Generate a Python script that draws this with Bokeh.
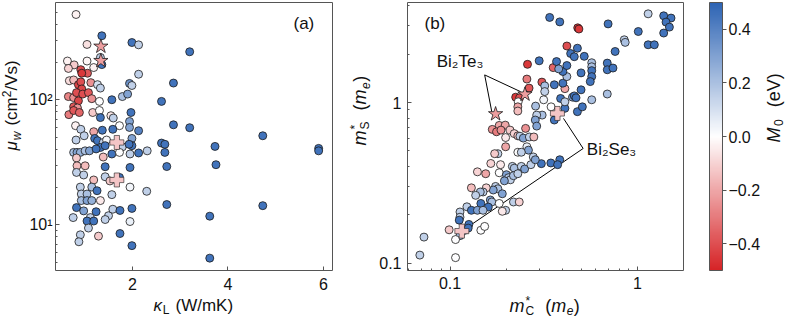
import math
from bokeh.plotting import figure
from bokeh.layouts import row, column
from bokeh.models import (ColumnDataSource, LinearColorMapper, ColorBar, FixedTicker, Label, Range1d)
from bokeh.embed import file_html
from bokeh.resources import INLINE

# ---------------- data : panel (a) ----------------
kappa_L = [0.82, 1.36, 1.05, 1.99, 2.13, 3.20, 1.33, 1.36, 0.64, 0.78, 0.66, 1.05, 0.92, 1.06, 0.94, 1.19,
           2.13, 0.68, 0.77, 0.87, 0.92, 0.94, 1.13, 1.27, 1.33, 1.94, 1.99, 2.86, 0.66, 0.77, 0.83, 0.96,
           1.08, 1.15, 0.87, 1.57, 1.79, 1.90, 2.61, 1.31, 0.77, 0.85, 0.67, 0.77, 0.89, 1.17, 1.31, 1.33,
           1.55, 1.60, 1.97, 1.94, 2.86, 3.20, 1.73, 0.81, 0.92, 0.99, 0.82, 1.19, 1.37, 1.59, 1.94, 2.13,
           1.21, 1.27, 1.39, 1.46, 1.79, 1.99, 1.99, 2.61, 2.68, 3.73, 1.33, 0.77, 0.84, 0.91, 1.01, 1.10,
           1.24, 1.43, 1.57, 1.73, 1.95, 2.13, 2.31, 1.93, 2.68, 0.83, 1.39, 0.84, 1.01, 1.43, 1.95, 2.72,
           3.75, 0.83, 0.98, 1.19, 1.43, 1.53, 1.73, 1.95, 2.30, 0.91, 1.15, 1.26, 0.93, 1.05, 1.57, 0.93,
           1.05, 1.15, 1.33, 2.72, 0.83, 0.98, 1.24, 1.50, 1.59, 1.74, 1.99, 0.76, 1.12, 1.05, 1.19, 1.43,
           1.95, 3.62, 1.08, 1.29, 1.74, 0.91, 0.88, 1.99, 3.62, 4.73, 5.90, 5.90, 4.73]
mu_w = [481, 325, 277, 287, 275, 242, 218, 191, 204, 190, 178, 204, 174, 163, 163, 181,
        160, 142, 144, 132, 139, 122, 137, 132, 124, 135, 130, 136, 106, 104, 114, 111,
        114, 102, 98, 100, 106, 111, 97, 97, 88, 86, 76, 82, 79, 79, 82, 72,
        74.5, 71.4, 79, 67, 63, 59.7, 62, 62, 58, 51.5, 47.6, 55.5, 57, 58, 60, 56.5,
        49, 47, 45.5, 47.6, 42, 49, 42.9, 45, 44, 42.3, 41.5, 37.9, 37.9, 37.9, 39, 39,
        40.4, 42.9, 36.8, 37.9, 36.8, 37.5, 39, 44, 37.9, 34.2, 34.8, 29.6, 29.6, 29.1, 28.7, 29.2,
        30.2, 26.2, 25, 22.8, 24.2, 22.4, 23.9, 20, 18.5, 20, 20, 18.7, 17.6, 17.6, 17.4, 15.6,
        15.6, 15.6, 15.6, 14.5, 13.7, 12.9, 12.7, 11.8, 13.3, 13.0, 13.5, 11.4, 11.4, 10.7, 10.7, 11.0,
        10.6, 11.7, 9.4, 8.1, 8.5, 8.3, 7.3, 6.8, 5.4, 51.5, 40.8, 39, 14.2]
m0_a = [-0.03, 0.45, -0.07, 0.45, 0.15, 0.45, 0.15, 0.45, -0.03, -0.12, -0.1, -0.02, -0.4, -0.38, -0.45, -0.03,
        0.15, -0.08, -0.15, -0.42, -0.4, -0.42, -0.25, 0.1, 0.15, 0.35, 0.15, 0.45, -0.28, -0.25, -0.4, -0.4,
        -0.38, -0.25, -0.42, 0.45, 0.2, 0.3, 0.45, 0.0, -0.38, -0.25, -0.3, -0.38, -0.35, -0.12, 0.0, 0.45,
        -0.05, 0.15, 0.45, 0.3, 0.45, 0.45, 0.0, -0.03, 0.15, 0.15, 0.15, -0.2, 0.45, 0.45, 0.3, 0.4,
        0.45, 0.45, 0.15, 0.02, 0.15, 0.3, 0.45, 0.45, 0.45, 0.45, 0.45, 0.2, 0.3, 0.25, 0.2, 0.3,
        0.45, 0.45, 0.45, 0.0, 0.15, 0.45, 0.15, 0.45, 0.45, -0.12, -0.15, -0.15, -0.15, 0.45, 0.45, 0.45,
        0.45, 0.15, 0.15, -0.15, 0.15, -0.12, 0.45, 0.03, 0.15, 0.15, 0.2, 0.45, 0.15, 0.2, 0.15, 0.2,
        0.3, 0.25, -0.05, 0.45, 0.45, 0.3, 0.45, 0.15, 0.15, 0.45, 0.45, 0.15, 0.15, 0.45, 0.45, 0.15,
        0.05, 0.45, 0.15, -0.12, 0.45, 0.15, 0.15, 0.45, 0.45, 0.45, 0.45, 0.45, 0.45]
# Bi2Te3 (stars) and Bi2Se3 (pluses), panel (a)
star_kappa = [1.34, 1.34]
star_mu = [267, 205]
plus_kappa = [1.675, 1.675]
plus_mu = [45.5, 22.8]

# ---------------- data : panel (b) ----------------
m_C = [0.340, 0.385, 0.480, 0.487, 0.697, 1.01, 1.14, 1.38, 1.51, 1.42, 1.48, 1.38, 0.85, 0.86, 1.14, 1.23,
       0.76, 0.69, 0.69, 0.74, 0.69, 0.478, 0.42, 0.44, 0.46, 0.52, 0.57, 0.57, 0.57, 0.50, 0.57, 0.56,
       0.50, 0.57, 0.45, 0.46, 0.47, 0.478, 0.508, 0.41, 0.41, 0.40, 0.42, 0.40, 0.36, 0.299, 0.259, 0.355,
       0.257, 0.309, 0.32, 0.32, 0.389, 0.41, 0.37, 0.38, 0.42, 0.224, 0.235, 0.264, 0.231, 0.23, 0.23, 0.286,
       0.316, 0.346, 0.36, 0.31, 0.29, 0.285, 0.29, 0.168, 0.183, 0.197, 0.177, 0.187, 0.209, 0.198, 0.22, 0.23,
       0.253, 0.236, 0.246, 0.265, 0.28, 0.257, 0.262, 0.198, 0.23, 0.24, 0.278, 0.18, 0.173, 0.165, 0.186, 0.215,
       0.22, 0.24, 0.25, 0.27, 0.307, 0.285, 0.345, 0.385, 0.375, 0.14, 0.155, 0.183, 0.20, 0.205, 0.21, 0.218,
       0.23, 0.195, 0.175, 0.18, 0.17, 0.156, 0.13, 0.15, 0.145, 0.137, 0.19, 0.164, 0.167, 0.146, 0.16, 0.183,
       0.198, 0.218, 0.234, 0.19, 0.123, 0.13, 0.14, 0.15, 0.113, 0.113, 0.112, 0.126, 0.0989, 0.12, 0.125, 0.113,
       0.107, 0.146, 0.153, 0.0726, 0.069, 0.107]
m_S = [3.39, 3.18, 2.92, 2.87, 3.09, 2.77, 3.57, 3.47, 3.36, 3.17, 2.95, 2.71, 2.46, 2.37, 2.29, 2.29,
       2.08, 1.76, 1.60, 1.64, 1.13, 2.18, 2.25, 2.02, 1.93, 1.94, 1.77, 1.67, 1.58, 1.53, 1.45, 1.35,
       1.20, 1.04, 1.08, 1.10, 1.07, 0.877, 0.94, 0.92, 1.22, 1.32, 1.45, 1.56, 1.29, 1.82, 1.73, 1.65,
       1.40, 1.34, 1.27, 1.17, 1.06, 1.01, 1.80, 1.62, 1.70, 1.08, 1.07, 1.23, 1.01, 0.94, 0.885, 0.95,
       1.04, 0.94, 0.778, 0.835, 0.835, 0.778, 0.713, 0.68, 0.72, 0.723, 0.657, 0.673, 0.673, 0.605, 0.64, 0.62,
       0.69, 0.617, 0.60, 0.61, 0.61, 0.53, 0.505, 0.53, 0.49, 0.49, 0.458, 0.48, 0.48, 0.417, 0.41, 0.40,
       0.39, 0.40, 0.385, 0.41, 0.416, 0.44, 0.42, 0.44, 0.41, 0.37, 0.36, 0.365, 0.355, 0.34, 0.33, 0.35,
       0.36, 0.325, 0.30, 0.29, 0.285, 0.294, 0.294, 0.277, 0.277, 0.264, 0.27, 0.247, 0.24, 0.235, 0.223, 0.235,
       0.213, 0.24, 0.24, 0.21, 0.224, 0.213, 0.213, 0.213, 0.208, 0.193, 0.185, 0.174, 0.161, 0.16, 0.165, 0.148,
       0.14, 0.16, 0.169, 0.145, 0.112, 0.108]
m0_b = [0.45, 0.45, -0.45, -0.45, 0.45, 0.45, 0.15, 0.45, 0.45, 0.45, 0.45, 0.45, 0.15, 0.2, 0.45, 0.45,
        0.45, 0.45, 0.45, 0.45, 0.2, 0.45, -0.4, 0.45, 0.45, 0.45, 0.2, 0.2, 0.45, 0.45, 0.45, 0.45,
        0.45, 0.2, 0.3, 0.45, 0.45, 0.45, 0.45, 0.45, -0.2, 0.45, 0.2, 0.45, 0.45, 0.45, -0.45, -0.35,
        -0.3, -0.38, 0.2, 0.15, 0.45, 0.15, 0.45, 0.3, 0.45, -0.45, -0.4, -0.38, 0.0, -0.2, -0.15, 0.2,
        0.03, 0.0, 0.45, 0.2, 0.15, 0.3, 0.3, -0.25, -0.2, -0.2, -0.3, -0.25, -0.12, -0.05, -0.1, -0.15,
        -0.25, 0.15, 0.3, 0.15, -0.15, 0.05, 0.3, -0.2, 0.0, 0.15, 0.15, 0.15, -0.12, -0.1, -0.05, 0.15,
        0.2, 0.15, 0.3, 0.15, 0.45, 0.3, 0.45, 0.45, 0.45, -0.1, -0.2, 0.0, 0.3, 0.2, 0.15, 0.2,
        0.15, 0.3, 0.15, 0.2, 0.3, -0.1, -0.15, 0.15, 0.2, 0.15, 0.3, 0.3, 0.2, 0.45, 0.45, 0.0,
        0.15, 0.15, -0.1, -0.05, 0.15, 0.45, 0.3, 0.2, 0.15, 0.15, 0.45, 0.45, -0.12, 0.45, 0.45, 0.2,
        0.0, 0.0, 0.0, 0.15, 0.15, 0.0]
star_mC = [0.175, 0.251]
star_mS = [0.848, 1.125]
plus_mC = [0.374, 0.1156]
plus_mS = [0.855, 0.158]
star_m0 = [-0.22, -0.22]
plus_m0 = [-0.13, -0.13]

# annotation leader lines (data coords)
te_line_x = [0.238, 0.153, 0.167]
te_line_y = [1.168, 1.486, 0.876]
se_line_x = [0.403, 0.513, 0.121]
se_line_y = [0.796, 0.517, 0.164]

# ticks
a_xticks = [2, 4, 6]
a_yticks = [10, 100]
a_yminor = [5, 6, 7, 8, 9, 20, 30, 40, 50, 60, 70, 80, 90, 200, 300, 400, 500]
b_ticks = [0.1, 1]
b_xminor = [0.06, 0.07, 0.08, 0.09, 0.2, 0.3, 0.4, 0.5, 0.6, 0.7, 0.8, 0.9]
b_yminor = [0.2, 0.3, 0.4, 0.5, 0.6, 0.7, 0.8, 0.9, 2, 3, 4]
cb_ticks = [-0.4, -0.2, 0.0, 0.2, 0.4]
cb_labels = ["\u22120.4", "\u22120.2", "0.0", "0.2", "0.4"]

# ---------------- styling ----------------
FONT = "Liberation Sans"
TICK_FS = "16px"
EDGE = "#1a1a1a"
FRAME = "#555555"
TXT = "#111111"

def lerp(c1, c2, t):
    return tuple(int(round(a + (b - a) * t)) for a, b in zip(c1, c2))

RED = (214, 35, 38)
WHITE = (255, 255, 255)
BLUE = (45, 100, 180)
palette = []
for i in range(256):
    t = i / 255
    c = lerp(RED, WHITE, t / 0.5) if t < 0.5 else lerp(WHITE, BLUE, (t - 0.5) / 0.5)
    palette.append("#%02x%02x%02x" % c)
mapper = LinearColorMapper(palette=palette, low=-0.5, high=0.5)

# Arial-like advance widths (per 1000 em) used to lay out mixed-style labels
ADV = {'(': 333, ')': 333, '/': 278, '*': 389, '.': 278, 'W': 944, 'm': 833, 'K': 667,
       'c': 500, 'V': 667, 's': 500, 'e': 556, 'M': 833, 'L': 556, 'C': 722, 'S': 667, 'w': 722,
       '\u03bc': 576, '\u03ba': 520, '2': 556, '0': 556, '1': 556, 'a': 556, 'b': 556}

def tw(text, size):
    return sum(ADV.get(ch, 556) for ch in text) * size / 1000.0

MID = 0.35  # em-box middle above the baseline

def rich(fig, runs, xb, yb, vertical=False):
    """Lay out text runs along a baseline that starts at screen point (xb, yb).
    runs: (text, size, italic, shift_down, advance, gap_after)"""
    cum = 0.0
    for text, size, italic, shift, adv, gap in runs:
        kw = dict(x_units="screen", y_units="screen", text=text,
                  text_font=FONT, text_font_size=f"{size}px",
                  text_font_style="italic" if italic else "normal",
                  text_color=TXT, text_align="left", text_baseline="middle")
        if vertical:
            kw.update(x=xb + shift - MID * size, y=yb + cum, angle=math.pi / 2)
        else:
            kw.update(x=xb + cum, y=yb - shift + MID * size)
        fig.add_layout(Label(**kw))
        if adv:
            cum += tw(text, size) + gap

def style(p):
    p.outline_line_color = FRAME
    p.outline_line_width = 1
    p.grid.visible = False
    for ax in p.axis:
        ax.axis_line_color = None
        ax.major_tick_in = 4
        ax.major_tick_out = 0
        ax.minor_tick_in = 2
        ax.minor_tick_out = 0
        ax.major_tick_line_color = FRAME
        ax.minor_tick_line_color = FRAME
        ax.major_label_text_font = FONT
        ax.major_label_text_font_size = TICK_FS
        ax.major_label_text_color = TXT
    p.background_fill_color = "white"
    p.border_fill_color = "white"

def strip(w, h):
    s = figure(width=w, height=h, output_backend="svg", toolbar_location=None,
               x_range=Range1d(0, 1), y_range=Range1d(0, 1),
               x_axis_location=None, y_axis_location=None,
               min_border_left=0, min_border_right=0, min_border_top=0, min_border_bottom=0)
    s.outline_line_color = None
    s.grid.visible = False
    return s

# layout geometry (pixels)
TOTAL_H = 317
TOP_H = 295
BOT_H = TOTAL_H - TOP_H
FR_TOP = 2
FR_H = 268
FR_BOT = FR_TOP + FR_H
YA_W, FA_W, YB_W, FB_W, CT_W = 24, 316, 32, 392, 22
FA_X = YA_W
YB_X = FA_X + FA_W
FB_X = YB_X + YB_W
CT_X = FB_X + FB_W
FA_ML = 55 - FA_X
FA_FW = 277
FB_ML = 407 - FB_X
FB_FW = 276

# ---------------- panel (a) ----------------
fa = figure(width=FA_W, height=TOP_H, y_axis_type="log", output_backend="svg", toolbar_location=None,
            x_range=Range1d(0.39, 6.19), y_range=Range1d(4.3, 600),
            min_border_left=FA_ML, min_border_right=FA_W - FA_ML - FA_FW, min_border_top=FR_TOP,
            min_border_bottom=TOP_H - FR_BOT)
style(fa)
fa.xaxis.ticker = FixedTicker(ticks=a_xticks)
fa.xaxis.minor_tick_line_color = None
fa.xaxis.major_label_standoff = 7
fa.yaxis.ticker = FixedTicker(ticks=a_yticks, minor_ticks=a_yminor)
fa.yaxis.major_label_overrides = {10: "10\u00b9", 100: "10\u00b2"}
fa.yaxis.major_label_standoff = 3

src_a = ColumnDataSource(dict(x=kappa_L, y=mu_w, m0=m0_a))
fa.scatter("x", "y", source=src_a, marker="circle", size=8,
           fill_color={"field": "m0", "transform": mapper}, line_color=EDGE, line_width=0.8)
src_as = ColumnDataSource(dict(x=star_kappa, y=star_mu, m0=star_m0))
fa.scatter("x", "y", source=src_as, marker="star", size=15,
           fill_color={"field": "m0", "transform": mapper}, line_color=EDGE, line_width=0.8)
src_ap = ColumnDataSource(dict(x=plus_kappa, y=plus_mu, m0=plus_m0))
fa.scatter("x", "y", source=src_ap, marker="plus", size=14,
           fill_color={"field": "m0", "transform": mapper}, line_color=EDGE, line_width=0.6)
# panel tag (frame-relative screen units, y up from the frame bottom)
rich(fa, [("(a)", 17, False, 0, True, 0)], 293 - 55, FR_BOT - 29)

# ---------------- panel (b) ----------------
fb = figure(width=FB_W, height=TOP_H, x_axis_type="log", y_axis_type="log", output_backend="svg",
            toolbar_location=None,
            x_range=Range1d(0.0593, 1.76), y_range=Range1d(0.0898, 4.2),
            min_border_left=FB_ML, min_border_right=FB_W - FB_ML - FB_FW, min_border_top=FR_TOP,
            min_border_bottom=TOP_H - FR_BOT)
style(fb)
fb.xaxis.ticker = FixedTicker(ticks=b_ticks, minor_ticks=b_xminor)
fb.yaxis.ticker = FixedTicker(ticks=b_ticks, minor_ticks=b_yminor)
fb.xaxis.major_label_overrides = {0.1: "0.1", 1: "1"}
fb.yaxis.major_label_overrides = {0.1: "0.1", 1: "1"}
fb.xaxis.major_label_standoff = 6
fb.yaxis.major_label_standoff = 6

fb.line(te_line_x, te_line_y, line_color="black", line_width=1)
fb.line(se_line_x, se_line_y, line_color="black", line_width=1)

src_b = ColumnDataSource(dict(x=m_C, y=m_S, m0=m0_b))
fb.scatter("x", "y", source=src_b, marker="circle", size=8,
           fill_color={"field": "m0", "transform": mapper}, line_color=EDGE, line_width=0.8)
src_bs = ColumnDataSource(dict(x=star_mC, y=star_mS, m0=star_m0))
fb.scatter("x", "y", source=src_bs, marker="star", size=15,
           fill_color={"field": "m0", "transform": mapper}, line_color=EDGE, line_width=0.8)
src_bp = ColumnDataSource(dict(x=plus_mC, y=plus_mS, m0=plus_m0))
fb.scatter("x", "y", source=src_bp, marker="plus", size=14,
           fill_color={"field": "m0", "transform": mapper}, line_color=EDGE, line_width=0.6)

fb.add_layout(Label(x=0.0849, y=1.79, text="Bi\u2082Te\u2083", text_font=FONT, text_font_size="17px",
                    text_baseline="middle", text_align="left", text_color=TXT))
fb.add_layout(Label(x=0.537, y=0.513, text="Bi\u2082Se\u2083", text_font=FONT, text_font_size="17px",
                    text_baseline="middle", text_align="left", text_color=TXT))
rich(fb, [("(b)", 17, False, 0, True, 0)], 424 - 407, FR_BOT - 29)

cb = ColorBar(color_mapper=mapper, ticker=FixedTicker(ticks=cb_ticks),
              major_label_overrides={t: l for t, l in zip(cb_ticks, cb_labels)},
              width=13, height=FR_H, padding=0, margin=0, location=(26, 0),
              bar_line_color=FRAME, major_tick_in=0, major_tick_out=4,
              major_tick_line_color=FRAME, minor_tick_line_color=None, label_standoff=2,
              major_label_text_font=FONT, major_label_text_font_size=TICK_FS,
              major_label_text_color=TXT,
              background_fill_alpha=0, border_line_color=None)
fb.add_layout(cb, "right")

# ---------------- axis-label strips ----------------
ya = strip(YA_W, TOP_H)
rich(ya, [("\u03bc", 17, True, 0, True, 0.5), ("w", 12, True, 3.5, True, 6),
          ("(cm", 17, False, 0, True, 0), ("2", 12, False, -7, True, 0),
          ("/Vs)", 17, False, 0, True, 0)], 17, TOP_H - 175, vertical=True)

yb = strip(YB_W, TOP_H)
M_RUNS = lambda sub: [("m", 18, True, 0, True, 1), ("*", 12, False, -7, False, 0),
                      (sub, 12, False, 3, True, 11), ("(", 18, False, 0, True, 0),
                      ("m", 18, True, 0, True, 0.5), ("e", 12, True, 3, True, 0.5),
                      (")", 18, False, 0, True, 0)]
rich(yb, M_RUNS("S"), 366 - YB_X, TOP_H - 170, vertical=True)

ct = strip(CT_W, TOP_H)
rich(ct, [("M", 18, True, 0, True, 1.5), ("0", 12, False, 3, True, 12), ("(eV)", 18, False, 0, True, 0)],
     779.5 - CT_X, TOP_H - 167, vertical=True)

xl = strip(786, BOT_H)
rich(xl, [("\u03ba", 17, True, 0, True, 0.5), ("L", 12, False, 3.5, True, 6),
          ("(W/mK)", 17, False, 0, True, 0)], 153, TOTAL_H - 310.6)
rich(xl, M_RUNS("C"), 509, TOTAL_H - 311.4)

layout = column(row(ya, fa, yb, fb, ct), xl)
open("out.html", "w").write(file_html(layout, INLINE))
